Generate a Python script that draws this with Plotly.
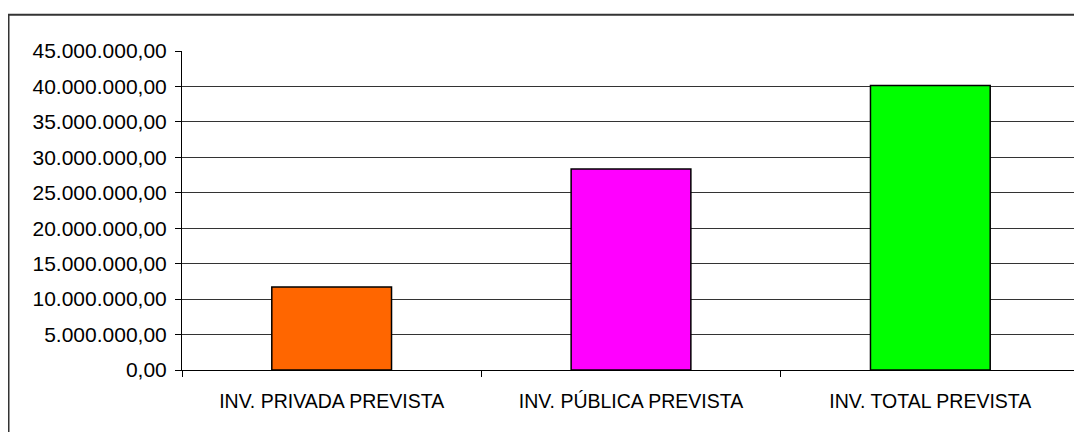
import plotly.graph_objects as go

categories = ["INV. PRIVADA PREVISTA", "INV. PÚBLICA PREVISTA", "INV. TOTAL PREVISTA"]
values = [11720000, 28340000, 40150000]
colors = ["#FF6600", "#FF00FF", "#00FF00"]
y_ticks = [0, 5000000, 10000000, 15000000, 20000000, 25000000, 30000000, 35000000, 40000000, 45000000]

FONT = "Liberation Sans, Arial, sans-serif"

fig = go.Figure(
    go.Bar(
        x=categories,
        y=values,
        width=0.4,
        marker=dict(color=colors, line=dict(color="#000000", width=1.5)),
    )
)

fig.update_layout(
    width=1074,
    height=424,
    margin=dict(l=174, r=2, t=43, b=61.5),
    paper_bgcolor="white",
    plot_bgcolor="white",
    separators=",.",
    showlegend=False,
    font=dict(family=FONT, size=20, color="#000000"),
    shapes=[
        dict(type="rect", xref="paper", yref="paper",
             x0=-0.1932, x1=1.02, y0=-0.25, y1=1.114,
             line=dict(color="#333333", width=2), fillcolor="rgba(0,0,0,0)", layer="below"),
        dict(type="line", xref="paper", yref="paper",
             x0=1, x1=1, y0=0, y1=1,
             line=dict(color="#888888", width=2)),
    ],
)

fig.update_yaxes(
    range=[0, 45000000],
    tickvals=y_ticks,
    tickformat=",.2f",
    showgrid=True,
    gridcolor="#333333",
    gridwidth=1,
    showline=True,
    linecolor="#000000",
    linewidth=1,
    ticks="outside",
    ticklen=6,
    tickcolor="#000000",
    zeroline=False,
    tickfont=dict(family=FONT, size=21, color="#000000"),
    ticklabelstandoff=4,
)

fig.update_xaxes(
    showline=True,
    linecolor="#000000",
    linewidth=1,
    ticks="outside",
    ticklen=6,
    tickcolor="#000000",
    tickson="boundaries",
    showgrid=False,
    tickfont=dict(family=FONT, size=19.5, color="#000000"),
    ticklabelstandoff=14,
)

fig.write_html("out.html")
